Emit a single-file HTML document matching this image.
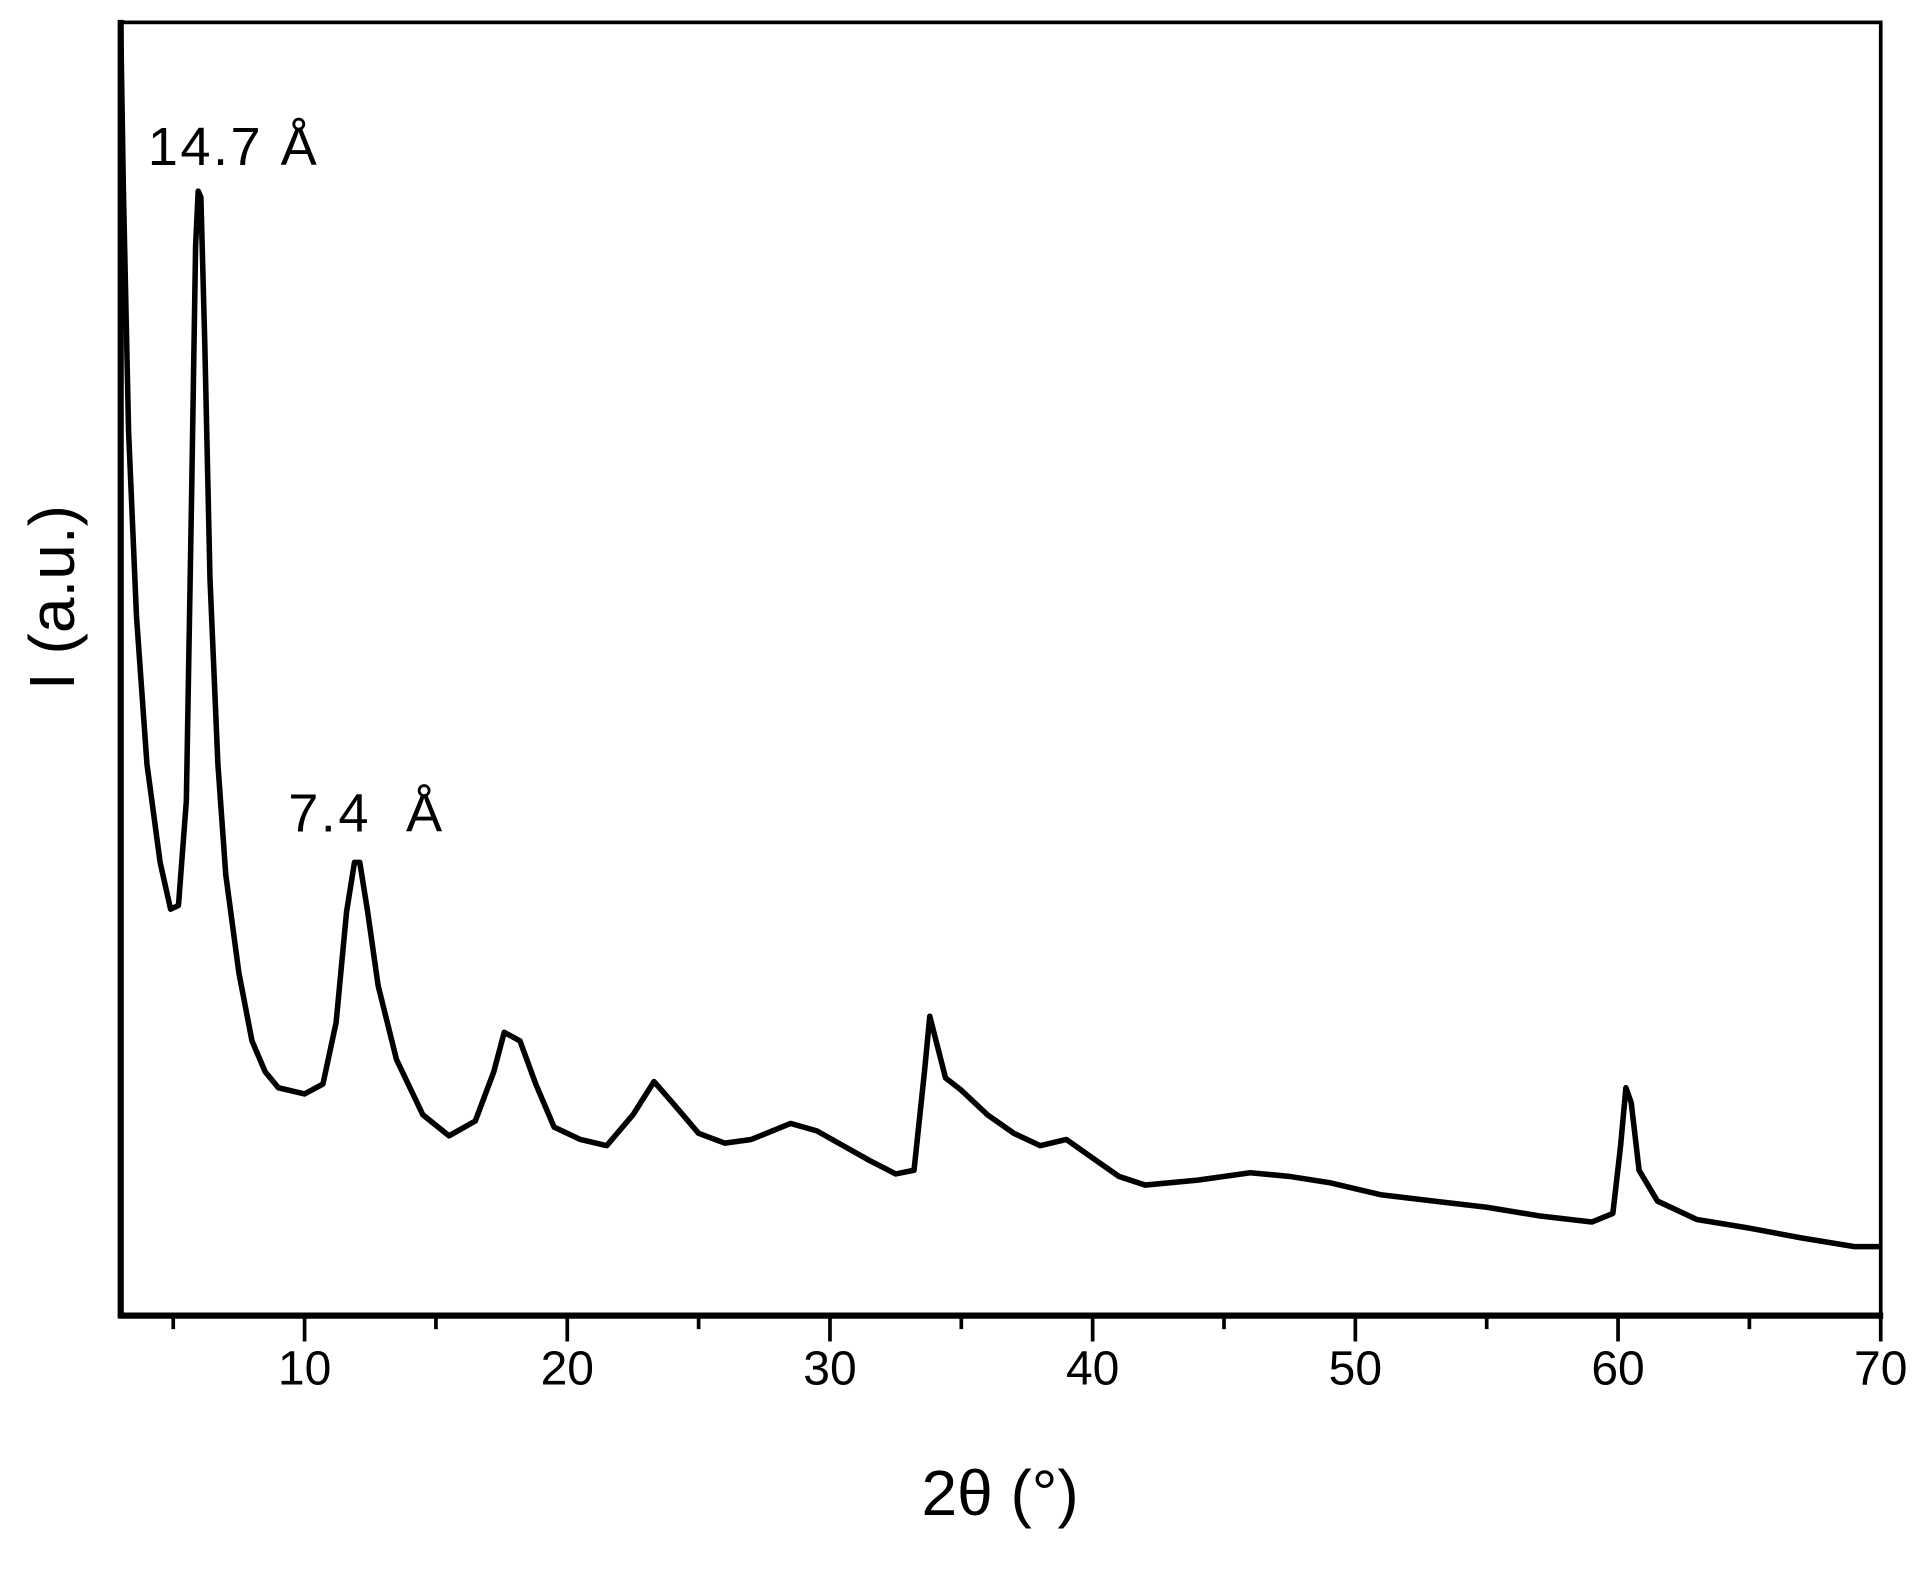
<!DOCTYPE html>
<html><head><meta charset="utf-8"><style>
html,body{margin:0;padding:0;background:#fff;}
svg{display:block;}
text{font-family:"Liberation Sans",Arial,sans-serif;fill:#000;}
</style></head><body>
<svg id="chart" width="1930" height="1572" viewBox="0 0 1567 1276" xmlns="http://www.w3.org/2000/svg">
<defs><clipPath id="clip"><rect x="98" y="18" width="1429" height="1050"/></clipPath></defs>
<g id="axes"></g>
<g id="series" clip-path="url(#clip)"></g>
<rect x="98" y="18" width="1429" height="1050" fill="none" stroke="#000" stroke-width="3"/>
<line x1="96" y1="1068" x2="1529" y2="1068" stroke="#000" stroke-width="5"/>
<line x1="98" y1="16" x2="98" y2="1070" stroke="#000" stroke-width="5"/>
<text x="812" y="1230" font-size="52" text-anchor="middle">2θ (°)</text>
<text transform="translate(60,485) rotate(-90)" font-size="52" text-anchor="middle">I (a.u.)</text>
<text x="120" y="134" font-size="44" letter-spacing="2">14.7 Å</text>
<text x="234" y="675" font-size="44" letter-spacing="2" xml:space="preserve">7.4  Å</text>
</svg>
<script>
const twoTheta = [3.0,3.1,3.3,3.6,4.0,4.5,4.9,5.2,5.5,5.7,5.85,5.95,6.05,6.2,6.4,6.7,7.0,7.5,8.0,8.5,9.0,10,10.7,11.2,11.6,11.9,12.1,12.4,12.8,13.5,14.5,15.5,16.5,17.2,17.6,18.2,18.8,19.5,20.5,21.5,22.5,23.3,24.0,25,26,27,28.5,29.5,30.5,31.5,32.5,33.2,33.6,33.8,34.1,34.4,35,36,37,38,39,40,41,42,44,46,47.5,49,51,53,55,57,59,59.8,60.1,60.3,60.5,60.8,61.5,63,65,67,69,70];
const intensity = [1050,918,718,568,448,368,330,333,418,668,868,913,908,788,598,448,358,278,223,198,185,180,188,238,328,368,368,328,268,208,163,146,158,198,230,223,188,153,143,138,163,190,173,148,140,143,156,150,138,126,115,118,198,243,218,193,183,163,148,138,143,128,113,106,110,116,113,108,98,93,88,81,76,83,138,185,173,118,93,78,71,63,56,56];
const xTicksMajor = [10,20,30,40,50,60,70];
const xTicksMinor = [5,15,25,35,45,55,65];
const X0=98,X1=1527,Y0=1068,Y1=18, xMin=3,xMax=70,yMin=0,yMax=1050;
const NS='http://www.w3.org/2000/svg';
function sx(v){return X0+(v-xMin)/(xMax-xMin)*(X1-X0);}
function sy(v){return Y0-(v-yMin)/(yMax-yMin)*(Y0-Y1);}
const axes=document.getElementById('axes');
xTicksMajor.forEach(t=>{
  const l=document.createElementNS(NS,'line');
  l.setAttribute('x1',sx(t));l.setAttribute('x2',sx(t));l.setAttribute('y1',Y0);l.setAttribute('y2',Y0+21);
  l.setAttribute('stroke','#000');l.setAttribute('stroke-width','3');
  
  
  axes.appendChild(l);
  const tx=document.createElementNS(NS,'text');
  tx.setAttribute('x',sx(t));tx.setAttribute('y',Y0+56);tx.setAttribute('font-size','39');tx.setAttribute('text-anchor','middle');
  tx.textContent=t;
  
  
  axes.appendChild(tx);
});
xTicksMinor.forEach(t=>{
  const l=document.createElementNS(NS,'line');
  l.setAttribute('x1',sx(t));l.setAttribute('x2',sx(t));l.setAttribute('y1',Y0);l.setAttribute('y2',Y0+11);
  l.setAttribute('stroke','#000');l.setAttribute('stroke-width','3');
  
  
  axes.appendChild(l);
});
const p=document.createElementNS(NS,'path');
p.setAttribute('d',twoTheta.map((x,i)=>(i?'L':'M')+sx(x).toFixed(1)+' '+sy(intensity[i]).toFixed(1)).join(' '));
p.setAttribute('fill','none');p.setAttribute('stroke','#000');p.setAttribute('stroke-width','4.5');p.setAttribute('stroke-linejoin','round');


document.getElementById('series').appendChild(p);
</script>
</body></html>
